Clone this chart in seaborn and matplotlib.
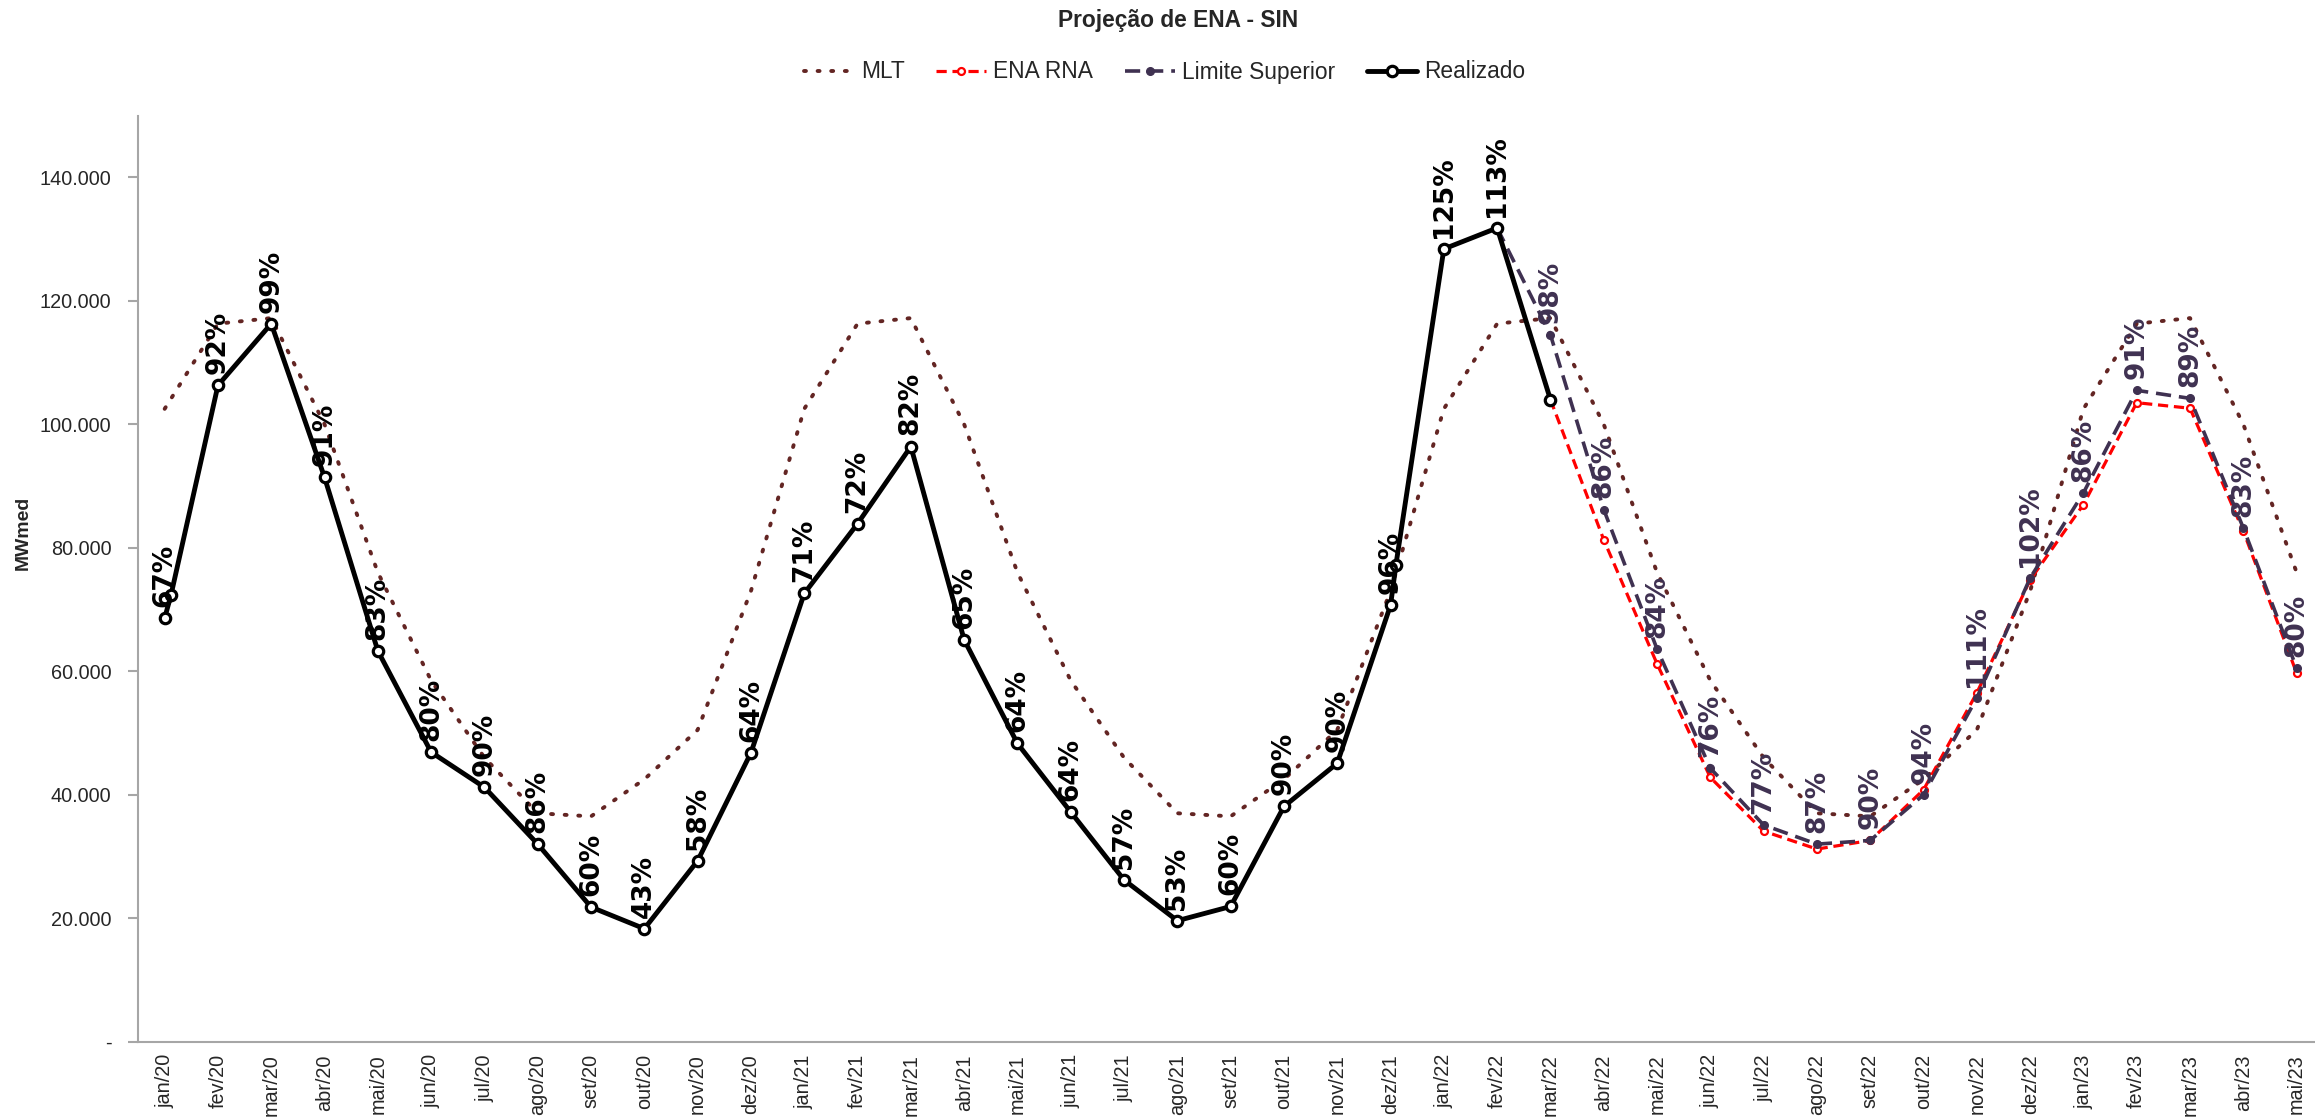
import matplotlib
matplotlib.use("Agg")
import matplotlib.pyplot as plt
import numpy as np
import pandas as pd
import seaborn as sns
from matplotlib import font_manager
from matplotlib.ticker import FuncFormatter, FixedLocator
from matplotlib.lines import Line2D

# ---------------- data ----------------
months = ["jan/20", "fev/20", "mar/20", "abr/20", "mai/20", "jun/20", "jul/20", "ago/20",
          "set/20", "out/20", "nov/20", "dez/20", "jan/21", "fev/21", "mar/21", "abr/21",
          "mai/21", "jun/21", "jul/21", "ago/21", "set/21", "out/21", "nov/21", "dez/21",
          "jan/22", "fev/22", "mar/22", "abr/22", "mai/22", "jun/22", "jul/22", "ago/22",
          "set/22", "out/22", "nov/22", "dez/22", "jan/23", "fev/23", "mar/23", "abr/23",
          "mai/23"]

mlt = [102500, 116300, 117200, 100000, 76000, 58500, 46000, 37000, 36500, 42500, 50500, 73000,
       102500, 116300, 117200, 100000, 76000, 58500, 46000, 37000, 36500, 42500, 50500, 73000,
       102500, 116300, 117200, 100000, 76000, 58500, 46000, 37000, 36500, 42500, 50500, 73000,
       102500, 116300, 117200, 100000, 76000]

realizado = [68600, 106300, 116300, 91400, 63300, 46900, 41200, 32000, 21800, 18300, 29300, 46800,
             72600, 83900, 96400, 65100, 48300, 37200, 26200, 19600, 21900, 38100, 45100, 70700,
             128400, 131800, 104000]
realizado_pct = ["67%", "92%", "99%", "91%", "83%", "80%", "90%", "86%", "60%", "43%", "58%", "64%",
                 "71%", "72%", "82%", "65%", "64%", "64%", "57%", "53%", "60%", "90%", "90%", "96%",
                 "125%", "113%"]
# two intermediate observations drawn on the Realizado line
realizado_extra_pos = [0.12, 23.1]
realizado_extra_val = [72400, 77200]

ena_rna_start = 26   # mar/22
ena_rna = [104000, 81300, 61200, 42800, 34100, 31200, 32600, 40800, 56500, 74800, 87000,
           103500, 102600, 82700, 59700]

limite_start = 25    # fev/22
limite_sup = [131800, 114500, 86200, 63600, 44300, 35100, 32000, 32600, 40000, 55700, 75100,
              88900, 105500, 104200, 83200, 60500]
limite_pct = ["98%", "86%", "84%", "76%", "77%", "87%", "90%", "94%", "111%", "102%", "86%",
              "91%", "89%", "83%", "80%"]

# ---------------- style ----------------
sns.set_style("white")
names = {f.name for f in font_manager.fontManager.ttflist}
if "Liberation Sans Narrow" in names:
    base_font, k = "Liberation Sans Narrow", 1.0
else:
    base_font, k = "Liberation Sans", 0.82
plt.rcParams["font.family"] = [base_font, "DejaVu Sans"]

C_MLT = "#632523"
C_RNA = "#FF0000"
C_LS = "#3F3151"
C_AX = "#A6A6A6"

W, H = 2315, 1120
fig = plt.figure(figsize=(W / 100, H / 100), dpi=100)
ax = fig.add_axes([138 / W, (H - 1041.7) / H, 41 * 53.3 / W, (1041.7 - 115.6) / H])

n = len(months)
x_all = np.arange(n)

MLT_LS = (0, (0.5, 3.0))
RNA_LS = (0, (3.2, 1.8))
LS_LS = (0, (4.2, 2.2))

df_mlt = pd.DataFrame({"x": x_all, "y": mlt})
sns.lineplot(data=df_mlt, x="x", y="y", ax=ax, color=C_MLT, lw=2.8,
             linestyle=MLT_LS, dash_capstyle="round", zorder=2)

x_rna = np.arange(ena_rna_start, ena_rna_start + len(ena_rna))
df_rna = pd.DataFrame({"x": x_rna, "y": ena_rna})
sns.lineplot(data=df_rna, x="x", y="y", ax=ax, color=C_RNA, lw=2.3,
             linestyle=RNA_LS, marker="o", markersize=5,
             markerfacecolor="white", markeredgecolor=C_RNA, markeredgewidth=1.6, zorder=3)

x_ls = np.arange(limite_start, limite_start + len(limite_sup))
df_ls = pd.DataFrame({"x": x_ls, "y": limite_sup})
sns.lineplot(data=df_ls, x="x", y="y", ax=ax, color=C_LS, lw=2.6,
             linestyle=LS_LS, marker="o", markersize=5.5,
             markerfacecolor=C_LS, markeredgecolor=C_LS, markeredgewidth=1, zorder=4)

x_real = list(np.arange(len(realizado))) + realizado_extra_pos
y_real = list(realizado) + realizado_extra_val
df_real = pd.DataFrame({"x": x_real, "y": y_real}).sort_values("x")
sns.lineplot(data=df_real, x="x", y="y", ax=ax, color="black", lw=3.5, sort=True,
             estimator=None, marker="o", markersize=7.5, markerfacecolor="white",
             markeredgecolor="black", markeredgewidth=2.3, zorder=5)

# data labels
for i, txt in enumerate(realizado_pct):
    ax.annotate(txt, (i, realizado[i]), xytext=(0, 8), textcoords="offset points",
                rotation=90, ha="center", va="bottom", fontsize=19, fontweight="bold",
                family="DejaVu Sans", color="black", zorder=6)
for j, txt in enumerate(limite_pct):
    kk = j + 1
    ax.annotate(txt, (x_ls[kk], limite_sup[kk]), xytext=(0, 8), textcoords="offset points",
                rotation=90, ha="center", va="bottom", fontsize=19, fontweight="bold",
                family="DejaVu Sans", color=C_LS, zorder=6)

# axes
ax.set_xlim(-0.5, n - 0.5)
ax.set_ylim(0, 150000)
ax.set_yticks(np.arange(0, 140001, 20000))
ax.yaxis.set_major_formatter(FuncFormatter(
    lambda v, p: "-" if v == 0 else f"{int(v):,}".replace(",", ".")))
ax.set_xticks(x_all)
ax.set_xticklabels(months, rotation=90)
ax.xaxis.set_minor_locator(FixedLocator(np.arange(-0.5, n, 1.0)))
ax.tick_params(axis="x", which="major", length=0, pad=9, labelsize=17.5 * k)
ax.tick_params(axis="x", which="minor", length=7, width=1.5, color=C_AX, direction="out")
ax.tick_params(axis="y", which="major", length=7, width=1.5, color=C_AX, direction="out",
               pad=12, labelsize=17.5 * k, left=True)
for s in ["top", "right"]:
    ax.spines[s].set_visible(False)
for s in ["left", "bottom"]:
    ax.spines[s].set_color(C_AX)
    ax.spines[s].set_linewidth(1.5)
ax.set_xlabel("")
ax.set_ylabel("MWmed", fontsize=17 * k, fontweight="bold")
ax.yaxis.set_label_coords(-0.0485, 0.549)

fig.text(0.509, 1 - 21 / H, "Projeção de ENA - SIN", ha="center", va="center",
         fontsize=20 * k, fontweight="bold")

handles = [
    Line2D([], [], color=C_MLT, lw=2.8, linestyle=MLT_LS, dash_capstyle="round"),
    Line2D([], [], color=C_RNA, lw=2.3, linestyle=RNA_LS, marker="o", markersize=5,
           markerfacecolor="white", markeredgecolor=C_RNA, markeredgewidth=1.6),
    Line2D([], [], color=C_LS, lw=2.6, linestyle=LS_LS, marker="o", markersize=5.5,
           markerfacecolor=C_LS, markeredgecolor=C_LS),
    Line2D([], [], color="black", lw=3.5, marker="o", markersize=7.5, markerfacecolor="white",
           markeredgecolor="black", markeredgewidth=2.3),
]
fig.legend(handles, ["MLT", "ENA RNA", "Limite Superior", "Realizado"], loc="center",
           bbox_to_anchor=(0.503, 1 - 72 / H), ncol=4, frameon=False, fontsize=20 * k,
           handlelength=2.2, handletextpad=0.3, columnspacing=1.4)

fig.savefig("out.png", dpi=100)
